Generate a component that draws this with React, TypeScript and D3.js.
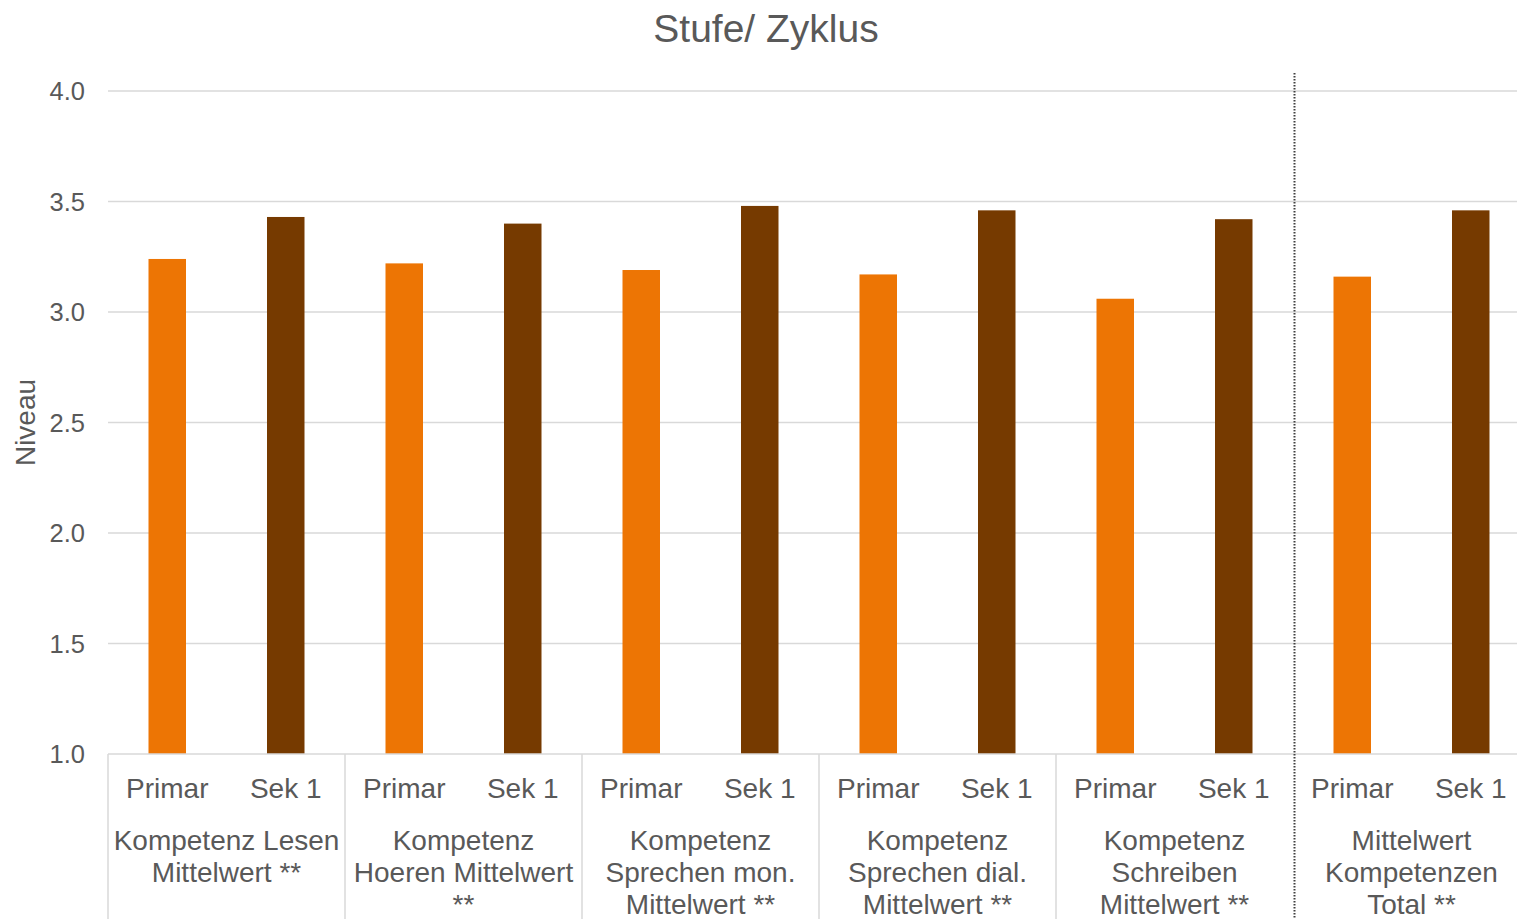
import React, { useEffect, useRef } from "react";
import * as d3 from "d3";

const groups = [
  ["Kompetenz Lesen", "Mittelwert **"],
  ["Kompetenz", "Hoeren Mittelwert", "**"],
  ["Kompetenz", "Sprechen mon.", "Mittelwert **"],
  ["Kompetenz", "Sprechen dial.", "Mittelwert **"],
  ["Kompetenz", "Schreiben", "Mittelwert **"],
  ["Mittelwert", "Kompetenzen", "Total **"],
];
const stufen = ["Primar", "Sek 1"];
const primar = [3.24, 3.22, 3.19, 3.17, 3.06, 3.16];
const sek1 = [3.43, 3.40, 3.48, 3.46, 3.42, 3.46];
const yTicks = [1.0, 1.5, 2.0, 2.5, 3.0, 3.5, 4.0];

const W = 1517;
const H = 919;
const FONT = "'Liberation Sans', Arial, sans-serif";
const TEXT = "#595959";
const GRID = "#d9d9d9";
const colors = ["#ED7504", "#763A00"];

export default function App() {
  const svgRef = useRef<SVGSVGElement | null>(null);

  useEffect(() => {
    document.body.style.margin = "0";
    const svg = d3.select(svgRef.current);
    svg.selectAll("*").remove();

    const left = 108;
    const top = 91;
    const bottom = 754;
    const groupW = 237;

    const x0 = d3
      .scaleBand<number>()
      .domain(d3.range(groups.length))
      .range([left, left + groupW * groups.length]);
    const x1 = d3.scaleBand<string>().domain(stufen).range([0, x0.bandwidth()]);
    const y = d3.scaleLinear().domain([1, 4]).range([bottom, top]);
    const barW = 37.5;

    // title
    svg
      .append("text")
      .attr("x", 766)
      .attr("y", 42)
      .attr("text-anchor", "middle")
      .attr("font-family", FONT)
      .attr("font-size", 39)
      .attr("fill", TEXT)
      .text("Stufe/ Zyklus");

    // gridlines
    svg
      .append("g")
      .selectAll("line")
      .data(yTicks.slice(1))
      .join("line")
      .attr("x1", left)
      .attr("x2", W)
      .attr("y1", (d) => y(d))
      .attr("y2", (d) => y(d))
      .attr("stroke", GRID)
      .attr("stroke-width", 1.5);

    // y tick labels
    svg
      .append("g")
      .selectAll("text")
      .data(yTicks)
      .join("text")
      .attr("x", 85)
      .attr("y", (d) => y(d))
      .attr("dy", "0.36em")
      .attr("text-anchor", "end")
      .attr("font-family", FONT)
      .attr("font-size", 25.5)
      .attr("fill", TEXT)
      .text((d) => d.toFixed(1));

    // y axis title
    svg
      .append("text")
      .attr("transform", `translate(35,${(top + bottom) / 2}) rotate(-90)`)
      .attr("text-anchor", "middle")
      .attr("font-family", FONT)
      .attr("font-size", 28)
      .attr("fill", TEXT)
      .text("Niveau");

    // bars
    const series = [primar, sek1];
    const bars = svg.append("g");
    series.forEach((vals, si) => {
      bars
        .selectAll(`rect.s${si}`)
        .data(vals)
        .join("rect")
        .attr("class", `s${si}`)
        .attr("x", (_, i) => (x0(i) as number) + (x1(stufen[si]) as number) + x1.bandwidth() / 2 - barW / 2)
        .attr("y", (d) => y(d))
        .attr("width", barW)
        .attr("height", (d) => y(1) - y(d))
        .attr("fill", colors[si]);
    });

    // category axis line
    svg
      .append("line")
      .attr("x1", left)
      .attr("x2", W)
      .attr("y1", bottom)
      .attr("y2", bottom)
      .attr("stroke", GRID)
      .attr("stroke-width", 1.5);

    // group dividers
    svg
      .append("g")
      .selectAll("line")
      .data(d3.range(groups.length - 1))
      .join("line")
      .attr("x1", (i) => x0(i) as number)
      .attr("x2", (i) => x0(i) as number)
      .attr("y1", bottom)
      .attr("y2", H)
      .attr("stroke", GRID)
      .attr("stroke-width", 1.5);

    // sub labels
    const lab = svg.append("g").attr("font-family", FONT).attr("fill", TEXT).attr("text-anchor", "middle");
    groups.forEach((g, i) => {
      stufen.forEach((s) => {
        lab
          .append("text")
          .attr("x", (x0(i) as number) + (x1(s) as number) + x1.bandwidth() / 2)
          .attr("y", 798)
          .attr("font-size", 28)
          .text(s);
      });
      const t = lab
        .append("text")
        .attr("x", (x0(i) as number) + x0.bandwidth() / 2)
        .attr("y", 850)
        .attr("font-size", 28);
      g.forEach((line, li) => {
        t.append("tspan")
          .attr("x", (x0(i) as number) + x0.bandwidth() / 2)
          .attr("dy", li === 0 ? 0 : 32)
          .text(line);
      });
    });

    // dotted separator before total
    const sepX = x0(groups.length - 1) as number;
    svg
      .append("line")
      .attr("x1", sepX + 1.5)
      .attr("x2", sepX + 1.5)
      .attr("y1", 73)
      .attr("y2", H)
      .attr("stroke", "#404040")
      .attr("stroke-width", 2)
      .attr("stroke-dasharray", "1.5 1.5");
  }, []);

  return (
    <svg
      ref={svgRef}
      width={W}
      height={H}
      style={{ display: "block", background: "white", overflow: "hidden" }}
    />
  );
}
